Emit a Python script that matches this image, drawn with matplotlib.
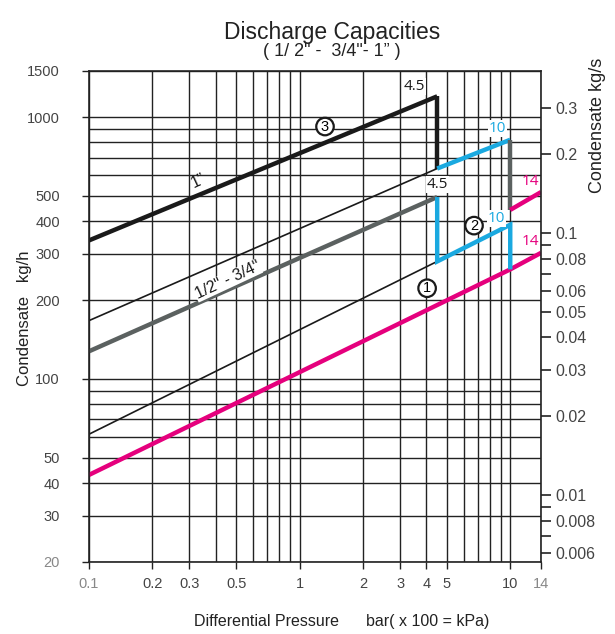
import matplotlib
matplotlib.use("Agg")
import matplotlib.pyplot as plt
from matplotlib.ticker import FixedLocator, LogLocator, NullFormatter, FixedFormatter

plt.rcParams['font.family'] = ['Liberation Sans', 'DejaVu Sans']

# pressure (bar) and condensate (kg/h)
p_one = [0.1, 4.5]
q_one = [338, 1200]
p_thin_hi = [0.1, 4.5]
q_thin_hi = [167, 636]
p_half = [0.1, 4.5]
q_half = [127.5, 495]
p_thin_lo = [0.1, 4.5]
q_thin_lo = [61.5, 281]
p_mag_lo = [0.1, 10, 14]
q_mag_lo = [43, 262, 303]

# step segments between orifice ranges
p_drop_black = [4.5, 4.5]
q_drop_black = [1200, 636]
p_blue_hi = [4.5, 10]
q_blue_hi = [636, 819]
p_drop_grey = [10, 10]
q_drop_grey = [819, 442]
p_mag_hi = [10, 14]
q_mag_hi = [442, 517]
p_blue_lo = [4.5, 4.5, 10, 10]
q_blue_lo = [495, 281, 388, 262]

x_ticks = [0.1, 0.2, 0.3, 0.5, 1, 2, 3, 4, 5, 10, 14]
x_labels = ["0.1", "0.2", "0.3", "0.5", "1", "2", "3", "4", "5", "10", "14"]
y_ticks = [20, 30, 40, 50, 100, 200, 300, 400, 500, 1000, 1500]
y_labels = ["20", "30", "40", "50", "100", "200", "300", "400", "500", "1000", "1500"]
r_ticks = [0.006, 0.007, 0.008, 0.009, 0.01, 0.02, 0.03, 0.04, 0.05, 0.06,
           0.07, 0.08, 0.09, 0.1, 0.2, 0.3]
r_labels = ["0.006", "", "0.008", "", "0.01", "0.02", "0.03", "0.04", "0.05",
            "0.06", "", "0.08", "", "0.1", "0.2", "0.3"]

BLACK = "#1a1a1a"
GREY = "#5b6160"
BLUE = "#1aa9e0"
MAGENTA = "#e5007d"
TXT = "#444444"

fig = plt.figure(figsize=(6.15, 6.34), dpi=100)
ax = fig.add_axes([0.1447, 0.1136, 0.735, 0.7745])
ax.set_xscale("log")
ax.set_yscale("log")
ax.set_xlim(0.1, 14)
ax.set_ylim(20, 1500)

ax.xaxis.set_major_locator(FixedLocator(x_ticks))
ax.xaxis.set_major_formatter(FixedFormatter(x_labels))
ax.xaxis.set_minor_locator(LogLocator(base=10, subs=range(2, 10), numticks=20))
ax.xaxis.set_minor_formatter(NullFormatter())
ax.yaxis.set_major_locator(FixedLocator(y_ticks))
ax.yaxis.set_major_formatter(FixedFormatter(y_labels))
ax.yaxis.set_minor_locator(LogLocator(base=10, subs=range(2, 10), numticks=20))
ax.yaxis.set_minor_formatter(NullFormatter())

ax.grid(which="both", color="#222222", lw=1.0)
ax.tick_params(which="minor", length=0)
ax.tick_params(which="major", direction="out", length=5, width=1.0, color="#222222",
               labelsize=10.5, labelcolor=TXT)
ax.tick_params(axis="x", pad=6)
ax.tick_params(axis="y", pad=16)
for lbl in (ax.get_xticklabels()[0], ax.get_xticklabels()[-1], ax.get_yticklabels()[0]):
    lbl.set_color("#888888")
for sp in ax.spines.values():
    sp.set_color("#222222")
    sp.set_linewidth(1.2)
ax.set_axisbelow(True)

ax2 = ax.twinx()
ax2.set_yscale("log")
ax2.set_ylim(20 / 3600, 1500 / 3600)
ax2.yaxis.set_major_locator(FixedLocator(r_ticks))
ax2.yaxis.set_major_formatter(FixedFormatter(r_labels))
ax2.yaxis.set_minor_locator(FixedLocator([]))
ax2.tick_params(direction="out", length=7, width=1.2, color="#222222",
                labelsize=11.5, labelcolor=TXT, pad=3)
for sp in ax2.spines.values():
    sp.set_visible(False)

# lines
ax.plot(p_thin_hi, q_thin_hi, color=BLACK, lw=1.2)
ax.plot(p_thin_lo, q_thin_lo, color=BLACK, lw=1.2)
ax.plot(p_mag_lo, q_mag_lo, color=MAGENTA, lw=3.2, solid_capstyle="butt")
ax.plot(p_one, q_one, color=BLACK, lw=3.2, solid_capstyle="butt")
ax.plot(p_drop_black, q_drop_black, color=BLACK, lw=3.2, solid_capstyle="butt")
ax.plot(p_half, q_half, color=GREY, lw=3.2, solid_capstyle="butt")
ax.plot(p_blue_hi, q_blue_hi, color=BLUE, lw=3.2, solid_capstyle="butt")
ax.plot(p_drop_grey, q_drop_grey, color=GREY, lw=3.2, solid_capstyle="butt")
ax.plot(p_mag_hi, q_mag_hi, color=MAGENTA, lw=3.2, solid_capstyle="butt")
ax.plot(p_blue_lo, q_blue_lo, color=BLUE, lw=3.2, solid_capstyle="butt",
        solid_joinstyle="miter")

# labels on lines
lab_font = ['Open Sans', 'DejaVu Sans']
wbox = dict(fc="white", ec="none", pad=0.5)
ax.text(3.5, 1310, "4.5", color=BLACK, fontsize=11, family=lab_font,
        ha="center", va="center", bbox=wbox)
ax.text(4.5, 552, "4.5", color=BLACK, fontsize=11, family=lab_font,
        ha="center", va="center", bbox=wbox)
ax.text(8.66, 905, "10", color=BLUE, fontsize=11, family=lab_font,
        ha="center", va="center", bbox=wbox)
ax.text(8.6, 410, "10", color=BLUE, fontsize=11, family=lab_font,
        ha="center", va="center", bbox=wbox)
ax.text(12.4, 565, "14", color=MAGENTA, fontsize=11, family=lab_font,
        ha="center", va="center")
ax.text(12.4, 336, "14", color=MAGENTA, fontsize=11, family=lab_font,
        ha="center", va="center")

circ = dict(boxstyle="circle,pad=0.12", fc="white", ec=BLACK, lw=1.6)
ax.text(1.32, 920, "3", fontsize=10.5, ha="center", va="center", bbox=circ)
ax.text(6.73, 385, "2", fontsize=10.5, ha="center", va="center", bbox=circ)
ax.text(4.03, 222, "1", fontsize=10.5, ha="center", va="center", bbox=circ)

ax.text(0.33, 570, "1\u201d", fontsize=11.5, rotation=25, ha="center", va="center",
        rotation_mode="anchor", color=BLACK)
ax.text(0.455, 238, "1/2\" - 3/4\"", fontsize=11.5, rotation=25, ha="center",
        va="center", rotation_mode="anchor", color=BLACK,
        bbox=dict(fc="white", ec="none", pad=0.3))

# titles and axis labels
fig.text(0.54, 0.948, "Discharge Capacities", fontsize=16.5, ha="center", va="center",
         color="#222222")
fig.text(0.54, 0.919, "( 1/ 2\" -  3/4\"- 1\u201d )", fontsize=13, ha="center",
         va="center", color="#222222")
fig.text(0.555, 0.019, "Differential Pressure      bar( x 100 = kPa)", fontsize=11.5,
         ha="center", va="center", color="#222222")
fig.text(0.04, 0.498, "Condensate   kg/h", fontsize=12, rotation=90,
         ha="center", va="center", color="#222222")
fig.text(0.972, 0.803, "Condensate kg/s", fontsize=13, rotation=90,
         ha="center", va="center", color="#222222")

fig.savefig("out.png", dpi=100)
